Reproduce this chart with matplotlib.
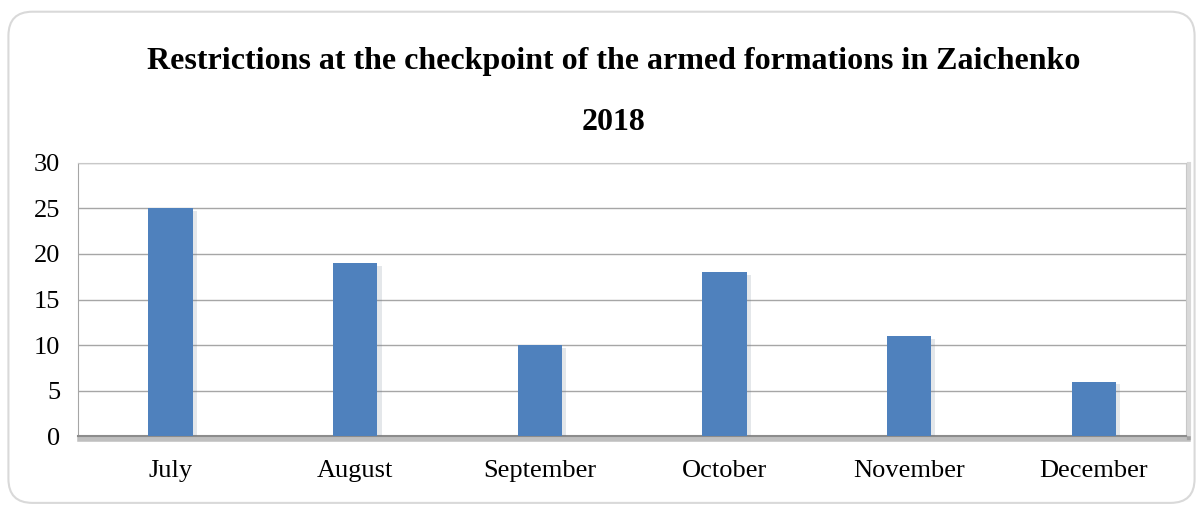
import matplotlib.pyplot as plt
import matplotlib.patheffects as pe
from matplotlib.patches import FancyBboxPatch

months = ['July', 'August', 'September', 'October', 'November', 'December']
restrictions = [25, 19, 10, 18, 11, 6]

plt.rcParams['font.family'] = 'Liberation Serif'

fig = plt.figure(figsize=(12.03, 5.09), dpi=100)

# rounded outer border
border = FancyBboxPatch((0.007, 0.012), 0.986, 0.965, boxstyle='round,pad=0,rounding_size=0.02',
                        transform=fig.transFigure, facecolor='white', edgecolor='#d9d9d9',
                        linewidth=1.5, mutation_aspect=1203 / 509, zorder=-5)
fig.patches.append(border)

ax = fig.add_axes([0.065, 0.143, 0.921, 0.537])
ax.set_facecolor('white')

shadow = [pe.SimplePatchShadow(offset=(3, -2), alpha=0.18, shadow_rgbFace='#6a7a90'), pe.Normal()]
bars = ax.bar(months, restrictions, width=0.24, color='#4f81bd', zorder=3)
for b in bars:
    b.set_path_effects(shadow)

ax.set_ylim(0, 30)
ax.set_xlim(-0.5, 5.5)
ax.set_yticks(range(0, 31, 5))
ax.yaxis.grid(True, color='#a6a6a6', linewidth=1, zorder=0)
ax.set_axisbelow(True)

for side in ['top', 'right']:
    ax.spines[side].set_color('#c8c8c8')
ax.spines['left'].set_color('#a6a6a6')
ax.spines['bottom'].set_color('#8c8c8c')
ax.spines['bottom'].set_linewidth(1.5)
ax.spines['bottom'].set_path_effects([pe.SimpleLineShadow(offset=(1, -2), alpha=0.25, linewidth=4), pe.Normal()])
ax.spines['right'].set_path_effects([pe.SimpleLineShadow(offset=(2, -1), alpha=0.15, linewidth=3), pe.Normal()])

ax.tick_params(axis='both', length=0, labelsize=19, colors='black')
ax.tick_params(axis='x', pad=17)
ax.tick_params(axis='y', pad=13)

fig.text(0.51, 0.88, 'Restrictions at the checkpoint of the armed formations in Zaichenko',
         ha='center', va='center', fontsize=23, fontweight='bold')
fig.text(0.51, 0.76, '2018', ha='center', va='center', fontsize=23, fontweight='bold')

plt.savefig('out.png', dpi=100)
